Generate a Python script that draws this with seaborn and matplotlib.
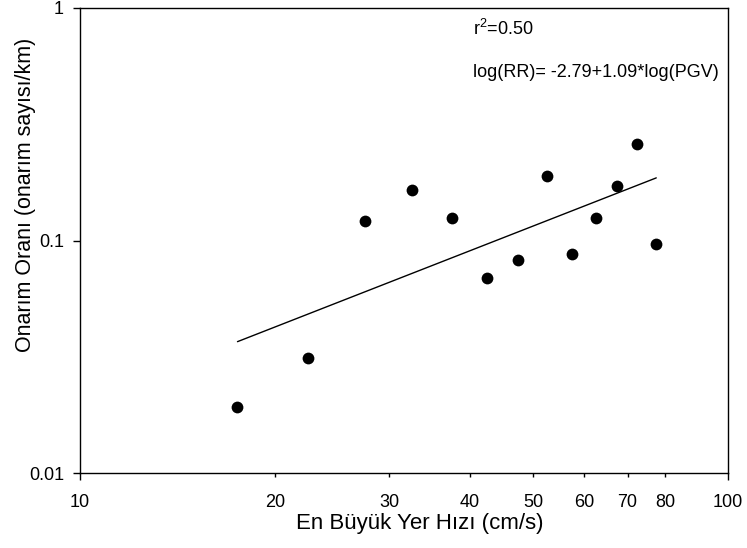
import matplotlib
matplotlib.use("Agg")
import matplotlib.pyplot as plt
import matplotlib.ticker as mticker
import numpy as np
import pandas as pd
import seaborn as sns

# Data
pgv = [17.5, 22.5, 27.5, 32.5, 37.5, 42.5, 47.5, 52.5, 57.5, 62.5, 67.5, 72.5, 77.5]
repair_rate = [0.0192, 0.0313, 0.121, 0.165, 0.125, 0.069, 0.0824, 0.189, 0.0875, 0.125, 0.172, 0.260, 0.0966]
fit_intercept = -2.79
fit_slope = 1.09
r2_text = "r$^2$=0.50"
eq_text = "log(RR)= -2.79+1.09*log(PGV)"
x_major = [10, 100]
x_minor = [20, 30, 40, 50, 60, 70, 80]
y_ticks = [0.01, 0.1, 1]
y_ticklabels = ["0.01", "0.1", "1"]

sns.set_theme(style="ticks")
plt.rcParams["font.family"] = ["Liberation Sans", "DejaVu Sans"]
plt.rcParams["mathtext.fontset"] = "custom"
plt.rcParams["mathtext.rm"] = "Liberation Sans"

fig = plt.figure(figsize=(7.47, 5.48), dpi=100)
ax = fig.add_axes([80/747, 1-473/548, (728-80)/747, (473-8)/548])

df = pd.DataFrame({"PGV": pgv, "RR": repair_rate})
sns.scatterplot(data=df, x="PGV", y="RR", ax=ax, color="black", s=72,
                edgecolor="black", linewidth=0, zorder=3)

xfit = np.array([min(pgv), max(pgv)])
yfit = 10 ** (fit_intercept + fit_slope * np.log10(xfit))
fit_df = pd.DataFrame({"PGV": xfit, "RR": yfit})
sns.lineplot(data=fit_df, x="PGV", y="RR", ax=ax, color="black", linewidth=1.0)

ax.set_xscale("log")
ax.set_yscale("log")
ax.set_xlim(10, 100)
ax.set_ylim(0.01, 1)

ax.xaxis.set_major_locator(mticker.FixedLocator(x_major))
ax.xaxis.set_major_formatter(mticker.FixedFormatter([str(t) for t in x_major]))
ax.xaxis.set_minor_locator(mticker.FixedLocator(x_minor))
ax.xaxis.set_minor_formatter(mticker.FixedFormatter([str(t) for t in x_minor]))
ax.yaxis.set_major_locator(mticker.FixedLocator(y_ticks))
ax.yaxis.set_major_formatter(mticker.FixedFormatter(y_ticklabels))
ax.yaxis.set_minor_locator(mticker.NullLocator())

ax.tick_params(axis="both", which="major", direction="out", length=5, width=1,
               labelsize=13, colors="black")
ax.tick_params(axis="x", which="major", pad=10)
ax.tick_params(axis="x", which="minor", direction="out", length=3, width=1,
               labelsize=13, colors="black", pad=12)
ax.tick_params(axis="y", which="major", pad=6.5)

for sp in ax.spines.values():
    sp.set_color("black")
    sp.set_linewidth(1.0)
    sp.set_visible(True)

ax.set_xlabel("En Büyük Yer Hızı (cm/s)", fontsize=16, color="black")
ax.set_ylabel("Onarım Oranı (onarım sayısı/km)", fontsize=15.5, color="black")
ax.xaxis.set_label_coords((420-80)/648, (473-513)/465)
ax.yaxis.set_label_coords((36-80)/648, (473-195)/465)

fig.text(473/747, 1-29/548, r2_text, fontsize=13, va="center", ha="left", color="black")
fig.text(473/747, 1-72/548, eq_text, fontsize=13, va="center", ha="left", color="black")

ax.grid(False)
fig.savefig("out.png", dpi=100)
